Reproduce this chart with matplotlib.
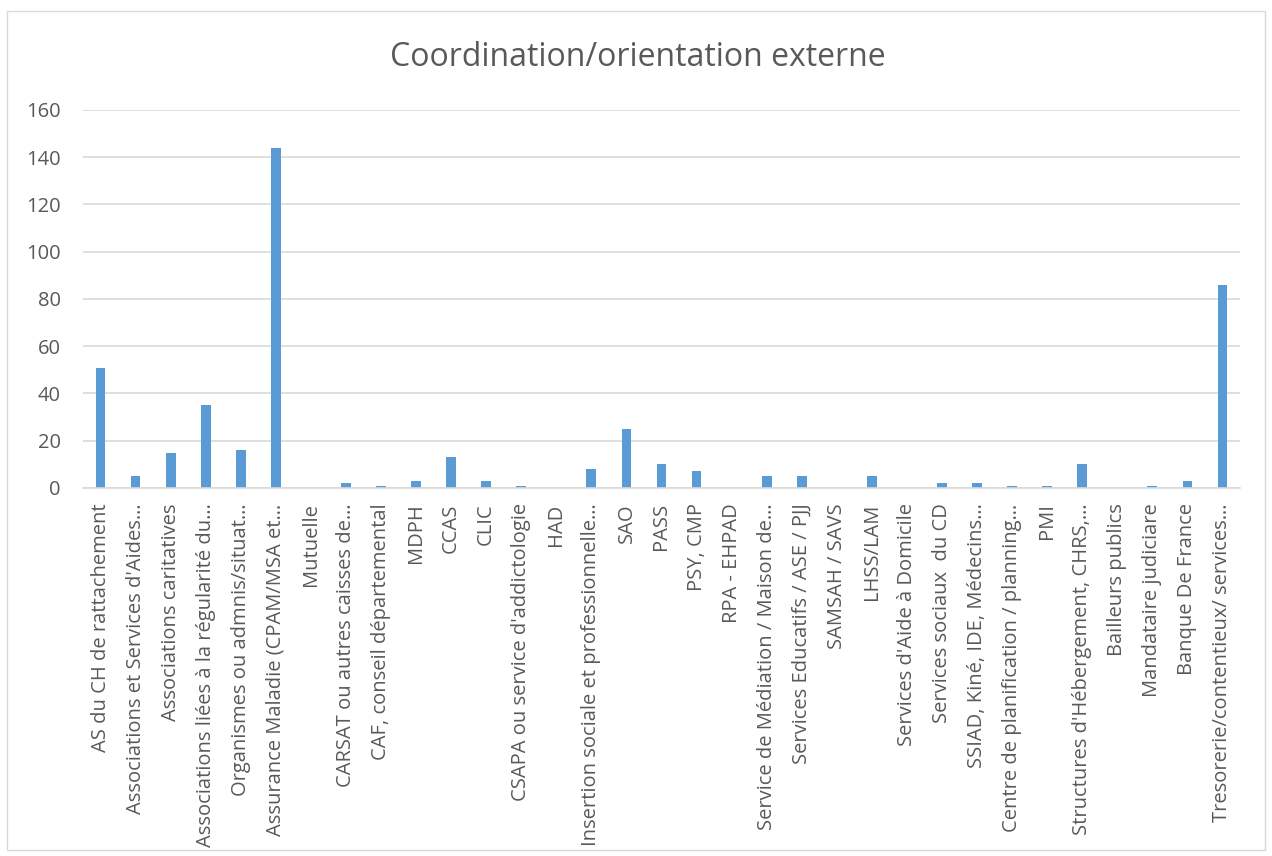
import matplotlib
matplotlib.use("Agg")
import matplotlib.pyplot as plt
from matplotlib.patches import Rectangle

categories = [
    "AS du CH de rattachement",
    "Associations et Services d'Aides…",
    "Associations caritatives",
    "Associations liées à la régularité du…",
    "Organismes ou admnis/situat…",
    "Assurance Maladie (CPAM/MSA et…",
    "Mutuelle",
    "CARSAT ou autres caisses de…",
    "CAF, conseil départemental",
    "MDPH",
    "CCAS",
    "CLIC",
    "CSAPA ou service d'addictologie",
    "HAD",
    "Insertion sociale et professionnelle…",
    "SAO",
    "PASS",
    "PSY, CMP",
    "RPA - EHPAD",
    "Service de Médiation / Maison de…",
    "Services Educatifs / ASE / PJJ",
    "SAMSAH / SAVS",
    "LHSS/LAM",
    "Services d'Aide à Domicile",
    "Services sociaux  du CD",
    "SSIAD, Kiné, IDE, Médecins…",
    "Centre de planification / planning…",
    "PMI",
    "Structures d'Hébergement, CHRS,…",
    "Bailleurs publics",
    "Mandataire judiciare",
    "Banque De France",
    "Tresorerie/contentieux/ services…",
]
values = [51, 5, 15, 35, 16, 144, 0, 2, 1, 3, 13, 3, 1, 0, 8, 25, 10, 7, 0,
          5, 5, 0, 5, 0, 2, 2, 1, 1, 10, 0, 1, 3, 86]
y_ticks = [0, 20, 40, 60, 80, 100, 120, 140, 160]
title = "Coordination/orientation externe"

bar_color = "#5B9BD5"
text_color = "#595959"
grid_color = "#D9D9D9"

plt.rcParams["font.family"] = ["Open Sans", "DejaVu Sans"]

fig = plt.figure(figsize=(12.72, 8.56), dpi=100)
ax = fig.add_axes([83 / 1272, 1 - 488 / 856, (1240 - 83) / 1272, (488 - 110) / 856])

x = list(range(len(categories)))
ax.bar(x, values, width=0.28, color=bar_color, zorder=3)

ax.set_xlim(-0.5, len(categories) - 0.5)
ax.set_ylim(0, 160)
ax.set_yticks(y_ticks)
ax.set_yticklabels([str(v) for v in y_ticks], color=text_color, fontsize=14.5)
ax.set_xticks(x)
ax.set_xticklabels(categories, rotation=90, color=text_color, fontsize=14.5)
ax.tick_params(axis="both", length=0)
ax.tick_params(axis="y", pad=16)
ax.tick_params(axis="x", pad=11)

ax.yaxis.grid(True, color=grid_color, linewidth=1.2, zorder=0)
for s in ["top", "right", "left"]:
    ax.spines[s].set_visible(False)
ax.spines["bottom"].set_color(grid_color)
ax.spines["bottom"].set_linewidth(1.2)
ax.spines["bottom"].set_zorder(4)

fig.text(638 / 1272, 1 - 57 / 856, title, ha="center", va="center",
         fontsize=23, color=text_color)

# chart area frame
fig.patches.append(Rectangle((7 / 1272, 1 - 850 / 856), (1265 - 7) / 1272,
                             (850 - 11) / 856, transform=fig.transFigure,
                             fill=False, edgecolor=grid_color, linewidth=1))

fig.savefig("out.png", dpi=100)
